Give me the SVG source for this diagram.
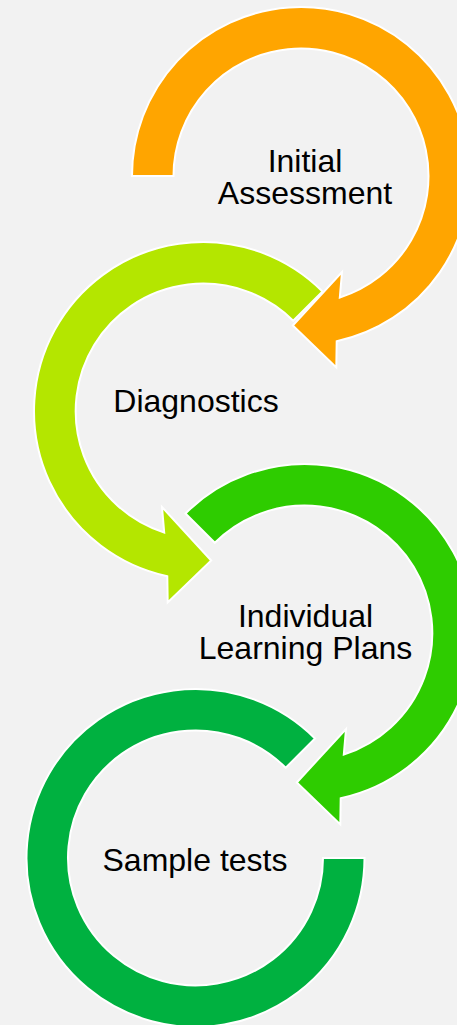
<svg xmlns="http://www.w3.org/2000/svg" width="457" height="1025" viewBox="0 0 457 1025">
  <style>
    .arc { stroke: #ffffff; stroke-width: 2; stroke-linejoin: miter; }
    .lbl { font-family: "Liberation Sans", Arial, sans-serif; font-size: 32px; fill: #000000; text-anchor: middle; }
  </style>
  <rect x="0" y="0" width="457" height="1025" fill="#f2f2f2"/>
  <g id="connectors"></g>
  <g id="node-initial-assessment">
    <path class="arc" fill="#ffa500" d="M132,176 A169,169 0 1 1 336.7,341.2 L336.3,367.5 L292.8,325.5 L342,272 L339.8,297.5 A127.5,127.5 0 1 0 173.5,176 Z"/>
    <text class="lbl" x="305" y="171.5">Initial</text>
    <text class="lbl" x="305" y="203.5">Assessment</text>
  </g>
  <g id="node-diagnostics">
    <path class="arc" fill="#b4e600" d="M322.5,291.5 A169,169 0 1 0 167.3,576.2 L167.7,602.5 L211.2,560.5 L162,507 L164.2,532.5 A127.5,127.5 0 1 1 293.2,320.8 Z"/>
    <text class="lbl" x="196" y="412">Diagnostics</text>
  </g>
  <g id="node-individual-learning-plans">
    <path class="arc" fill="#2ecc00" d="M185.5,513.5 A169,169 0 1 1 340.7,798.2 L340.3,824.5 L296.8,782.5 L346,729 L343.8,754.5 A127.5,127.5 0 1 0 214.8,542.8 Z"/>
    <text class="lbl" x="305.5" y="627">Individual</text>
    <text class="lbl" x="305.5" y="659">Learning Plans</text>
  </g>
  <g id="node-sample-tests">
    <path class="arc" fill="#00b140" d="M315,738.5 A169,169 0 1 0 364.5,858 L323,858 A127.5,127.5 0 1 1 285.7,767.8 Z"/>
    <text class="lbl" x="195" y="871">Sample tests</text>
  </g>
</svg>
